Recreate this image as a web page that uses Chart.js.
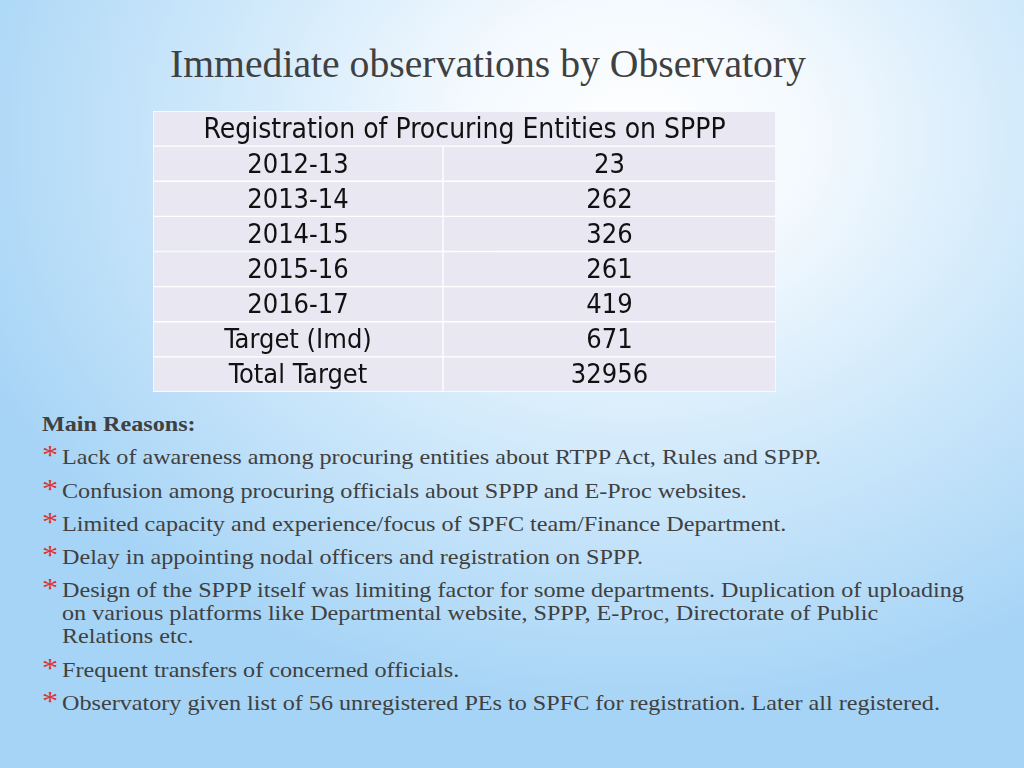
<!DOCTYPE html>
<html>
<head>
<meta charset="utf-8">
<script src="https://cdn.jsdelivr.net/npm/chart.js@4.4.1/dist/chart.umd.min.js"></script>
<style>
  html, body { margin: 0; padding: 0; }
  body {
    width: 1024px; height: 768px; overflow: hidden; position: relative;
    background: radial-gradient(ellipse 70% 75% at 62% 18%, #ffffff 0%, #f3f9fe 25%, #d2eafb 55%, #a6d4f6 100%);
  }
  #title {
    position: absolute; left: 170px; top: 41px;
    font-family: "Liberation Serif", serif; font-size: 39.7px; color: #404040;
    white-space: nowrap;
  }
  #tableWrap { position: absolute; left: 153px; top: 111px; width: 623px; height: 281px; }
  #reasons {
    position: absolute; left: 42px; top: 413px;
    font-family: "Liberation Serif", serif; font-size: 21px; line-height: 23px; color: #404040;
    white-space: nowrap;
    transform: scaleX(1.15); transform-origin: 0 0;
  }
  #reasons .head { font-weight: bold; }
  #reasons .item { position: relative; margin-top: 10.3px; padding-left: 17.4px; }
  #reasons .item::before {
    content: "*"; position: absolute; left: 0; top: -3px;
    color: #d9352c; font-size: 28px;
  }
</style>
</head>
<body>
<div id="title">Immediate observations by Observatory</div>
<div id="tableWrap"><canvas id="myChart" width="623" height="281"></canvas></div>
<div id="reasons"></div>

<script>
const tableTitle = 'Registration of Procuring Entities on SPPP';
const periods = ['2012-13', '2013-14', '2014-15', '2015-16', '2016-17', 'Target (Imd)', 'Total Target'];
const registrations = [23, 262, 326, 261, 419, 671, 32956];

const reasonsTitle = 'Main Reasons:';
const reasons = [
    ['Lack of awareness among procuring entities about RTPP Act, Rules and SPPP.'],
    ['Confusion among procuring officials about SPPP and E-Proc websites.'],
    ['Limited capacity and experience/focus of SPFC team/Finance Department.'],
    ['Delay in appointing nodal officers and registration on SPPP.'],
    ['Design of the SPPP itself was limiting factor for some departments. Duplication of uploading',
     'on various platforms like Departmental website, SPPP, E-Proc, Directorate of Public',
     'Relations etc.'],
    ['Frequent transfers of concerned officials.'],
    ['Observatory given list of 56 unregistered PEs to SPFC for registration. Later all registered.']
];

// text list below the table
let box = document.getElementById('reasons');
let h = document.createElement('div');
h.className = 'head';
h.textContent = reasonsTitle;
box.appendChild(h);
reasons.forEach(function(lines){
    let d = document.createElement('div');
    d.className = 'item';
    lines.forEach(function(l, i){
        if(i > 0) d.appendChild(document.createElement('br'));
        d.appendChild(document.createTextNode(l));
    });
    box.appendChild(d);
});

/*========================================
 * table drawn as floating bars
 *========================================*/
const COL1 = 290;
const TOTAL = 623;
const rows = [tableTitle].concat(periods);

let firstCol = rows.map(function(r, i){ return i === 0 ? [0, TOTAL] : [0, COL1]; });
let secondCol = rows.map(function(r, i){ return i === 0 ? null : [COL1, TOTAL]; });

let firstText = rows;
let secondText = [''].concat(registrations.map(String));

const cellText = {
    id: 'cellText',
    afterDatasetsDraw(chart){
        const c = chart.ctx;
        c.save();
        c.fillStyle = '#111111';
        c.textAlign = 'center';
        c.textBaseline = 'middle';
        [firstText, secondText].forEach(function(texts, di){
            chart.getDatasetMeta(di).data.forEach(function(bar, i){
                if(!texts[i]) return;
                // header row is a bit wider in the slide
                c.font = (i === 0 ? '28px' : '27px') + ' "DejaVu Sans Condensed"';
                let x = (bar.x + bar.base) / 2;
                c.fillText(texts[i], x, bar.y + 2);
            });
        });
        c.restore();
    }
};

const ctx = document.getElementById('myChart').getContext('2d');
let graph = new Chart(ctx, {
    type: 'bar',
    data: {
        labels: rows,
        datasets: [{
            data: firstCol,
            backgroundColor: '#e9e8f2',
            borderColor: '#ffffff',
            borderWidth: 1,
            borderSkipped: false,
            grouped: false,
            categoryPercentage: 1,
            barPercentage: 1
        }, {
            data: secondCol,
            backgroundColor: '#e9e8f2',
            borderColor: '#ffffff',
            borderWidth: 1,
            borderSkipped: false,
            grouped: false,
            categoryPercentage: 1,
            barPercentage: 1
        }]
    },
    options: {
        indexAxis: 'y',
        responsive: false,
        animation: false,
        layout: { padding: 0 },
        plugins: { legend: { display: false }, tooltip: { enabled: false } },
        scales: {
            x: { display: false, min: 0, max: TOTAL },
            y: { display: false }
        }
    },
    plugins: [cellText]
});
</script>
</body>
</html>
